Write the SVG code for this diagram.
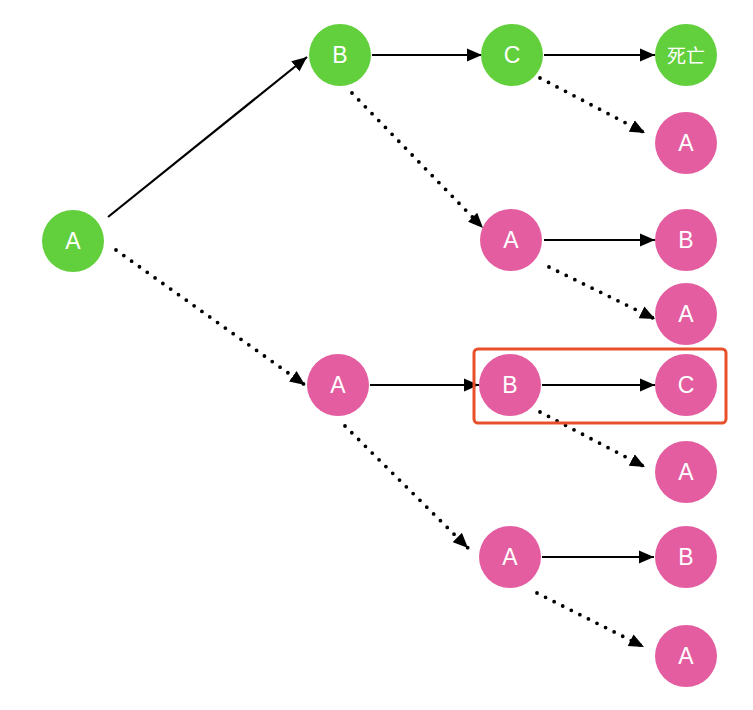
<svg xmlns="http://www.w3.org/2000/svg" width="753" height="710" viewBox="0 0 753 710">
  <defs>
    <marker id="arr" markerUnits="userSpaceOnUse" markerWidth="16" markerHeight="14" refX="15" refY="7" orient="auto">
      <path d="M0,0.5 L15,7 L0,13.5 z" fill="#000"/>
    </marker>
    <style>
      .solid { stroke:#000; stroke-width:2.2; fill:none; marker-end:url(#arr); }
      .dot { stroke:#000; stroke-width:3.8; fill:none; stroke-dasharray:0 9.6; stroke-linecap:round; marker-end:url(#arr); }
      .g { fill:#62cf3d; }
      .p { fill:#e35da0; }
      .t { fill:#fff; font-family:"Liberation Sans", Arial, sans-serif; font-size:23px; text-anchor:middle; dominant-baseline:central; }
      .cjk { fill:#fff; font-family:"Noto Sans CJK SC", "Noto Sans CJK JP", sans-serif; font-size:19px; text-anchor:middle; dominant-baseline:central; }
    </style>
  </defs>
  <rect width="753" height="710" fill="#fff"/>

  <g id="connectors">
    <line class="solid" x1="108" y1="217" x2="307" y2="57"/>
    <line class="dot" x1="116" y1="250" x2="305" y2="385"/>
    <line class="solid" x1="372" y1="55" x2="482" y2="55"/>
    <line class="solid" x1="544" y1="55" x2="655" y2="55"/>
    <line class="dot" x1="540" y1="78" x2="645" y2="133"/>
    <line class="dot" x1="352" y1="93" x2="483" y2="228"/>
    <line class="solid" x1="544" y1="240" x2="655" y2="240"/>
    <line class="dot" x1="549" y1="267" x2="655" y2="319"/>
    <line class="solid" x1="370" y1="385" x2="479" y2="385"/>
    <line class="solid" x1="542" y1="385" x2="655" y2="385"/>
    <line class="dot" x1="540" y1="412" x2="645" y2="467"/>
    <line class="dot" x1="345" y1="426" x2="468" y2="548"/>
    <line class="solid" x1="542" y1="557" x2="654" y2="557"/>
    <line class="dot" x1="537" y1="593" x2="644" y2="647"/>
  </g>

  <rect id="highlight" x="474" y="349" width="252" height="74" rx="4" fill="none" stroke="#e8502b" stroke-width="3"/>

  <g id="n_root"><circle class="g" cx="73" cy="241" r="31"/><text class="t" x="73" y="241">A</text></g>
  <g id="n_B1"><circle class="g" cx="340" cy="55" r="31"/><text class="t" x="340" y="55">B</text></g>
  <g id="n_C1"><circle class="g" cx="512" cy="55" r="31"/><text class="t" x="512" y="55">C</text></g>
  <g id="n_dead"><circle class="g" cx="686" cy="55" r="31"/><text class="cjk" x="686" y="54">死亡</text></g>
  <g id="n_A2"><circle class="p" cx="686" cy="143" r="31"/><text class="t" x="686" y="143">A</text></g>
  <g id="n_A3"><circle class="p" cx="511" cy="240" r="31"/><text class="t" x="511" y="240">A</text></g>
  <g id="n_B2"><circle class="p" cx="686" cy="240" r="31"/><text class="t" x="686" y="240">B</text></g>
  <g id="n_A4"><circle class="p" cx="686" cy="314" r="31"/><text class="t" x="686" y="314">A</text></g>
  <g id="n_A5"><circle class="p" cx="338" cy="385" r="31"/><text class="t" x="338" y="385">A</text></g>
  <g id="n_B3"><circle class="p" cx="510" cy="385" r="31"/><text class="t" x="510" y="385">B</text></g>
  <g id="n_C2"><circle class="p" cx="686" cy="385" r="31"/><text class="t" x="686" y="385">C</text></g>
  <g id="n_A6"><circle class="p" cx="686" cy="472" r="31"/><text class="t" x="686" y="472">A</text></g>
  <g id="n_A7"><circle class="p" cx="510" cy="557" r="31"/><text class="t" x="510" y="557">A</text></g>
  <g id="n_B4"><circle class="p" cx="686" cy="557" r="31"/><text class="t" x="686" y="557">B</text></g>
  <g id="n_A8"><circle class="p" cx="686" cy="656" r="31"/><text class="t" x="686" y="656">A</text></g>
</svg>
